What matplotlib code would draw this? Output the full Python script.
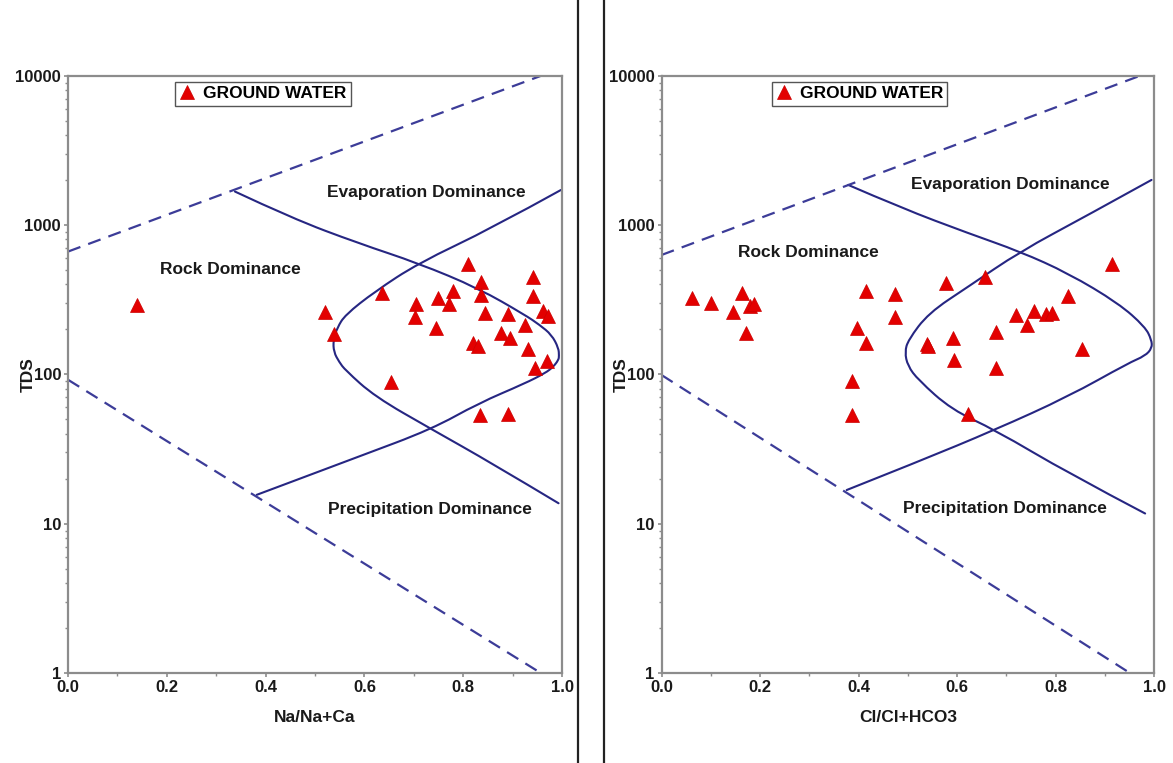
import matplotlib
matplotlib.use('Agg')
import numpy as np
import matplotlib.pyplot as plt
from matplotlib.lines import Line2D
from matplotlib.path import Path
from matplotlib.patches import PathPatch
from matplotlib.ticker import FixedLocator, MultipleLocator, LogLocator, NullFormatter, FormatStrFormatter

plt.rcParams['font.family'] = ['Liberation Sans', 'DejaVu Sans']
plt.rcParams['font.weight'] = 'bold'
plt.rcParams['lines.scale_dashes'] = False

# ---- data: Na/(Na+Ca) panel ----
na_ratio = [0.140, 0.520, 0.538, 0.635, 0.653, 0.704, 0.702, 0.748, 0.744, 0.772,
            0.779, 0.810, 0.836, 0.836, 0.844, 0.820, 0.829, 0.834, 0.891, 0.891,
            0.876, 0.895, 0.925, 0.942, 0.942, 0.962, 0.972, 0.932, 0.945, 0.969]
na_tds = [292, 263, 187, 349, 89, 296, 241, 326, 204, 295,
          362, 546, 414, 340, 257, 162, 155, 53.5, 54, 253,
          190, 175, 214, 451, 335, 266, 246, 147, 110, 123]

# ---- data: Cl/(Cl+HCO3) panel ----
cl_ratio = [0.061, 0.100, 0.145, 0.163, 0.180, 0.188, 0.172, 0.415, 0.396, 0.415,
            0.387, 0.387, 0.474, 0.474, 0.577, 0.657, 0.914, 0.826, 0.720, 0.756,
            0.780, 0.792, 0.742, 0.679, 0.592, 0.540, 0.542, 0.594, 0.679, 0.853,
            0.622]
cl_tds = [326, 299, 263, 349, 287, 296, 188, 362, 204, 163,
          90, 53.5, 344, 244, 411, 447, 546, 335, 250, 266,
          253, 257, 214, 191, 176, 159, 155, 124, 110, 148,
          54]

# Gibbs boundary curves
na_curve_a_x = [0.338, 0.453, 0.588, 0.709, 0.831, 0.925, 0.955, 0.979, 0.993, 0.994,
                0.993, 0.982, 0.966, 0.925, 0.831, 0.736, 0.588, 0.453, 0.382]
na_curve_a_y = [1675, 1111, 755, 555, 377, 250, 214, 184, 150, 133,
                125, 112, 102, 87, 64, 42.9, 28.1, 19.1, 15.6]
na_curve_b_x = [0.998, 0.858, 0.709, 0.621, 0.561, 0.545, 0.537, 0.538, 0.549, 0.561,
                0.621, 0.736, 0.858, 0.993]
na_curve_b_y = [1718, 952, 555, 358, 250, 205, 170, 141, 121, 107,
                71, 42.9, 25.4, 13.7]
na_upper_x, na_upper_y = [0.0, 0.958], [664, 10000]
na_lower_x, na_lower_y = [0.0, 0.957], [92, 1]

cl_curve_a_x = [0.379, 0.488, 0.623, 0.728, 0.826, 0.928, 0.982, 0.995, 0.996, 0.982,
                0.948, 0.826, 0.677, 0.521, 0.376]
cl_curve_a_y = [1857, 1297, 881, 664, 475, 299, 208, 170, 150, 133,
                119, 71, 42.5, 26, 16.8]
cl_curve_b_x = [0.995, 0.860, 0.728, 0.623, 0.542, 0.501, 0.494, 0.500, 0.521, 0.589,
                0.677, 0.826, 0.982]
cl_curve_b_y = [2005, 1138, 664, 387, 257, 170, 141, 114, 92, 58,
                42.5, 21.8, 11.7]
cl_upper_x, cl_upper_y = [0.0, 0.972], [630, 10000]
cl_lower_x, cl_lower_y = [0.0, 0.951], [99, 1]

region_names = ['Evaporation Dominance', 'Rock Dominance', 'Precipitation Dominance']
na_label_pos = [(0.725, 1641), (0.329, 500), (0.732, 12.4)]
cl_label_pos = [(0.709, 1855), (0.299, 653), (0.697, 12.7)]

ytick_vals = [1, 10, 100, 1000, 10000]
ytick_labels = ['1', '10', '100', '1000', '10000']

CURVE = '#262682'
DASH = '#3c3c98'
SPINE = '#8c8c8c'
TXT = '#1a1a1a'


def smooth_curve(ax, xs, ys):
    # quadratic bezier through the read points (rounded corners), drawn in data coords
    ly = np.log10(ys)
    verts = [(xs[0], ys[0])]
    codes = [Path.MOVETO]
    n = len(xs)
    for i in range(1, n - 1):
        if i < n - 2:
            end = ((xs[i] + xs[i + 1]) / 2, 10 ** ((ly[i] + ly[i + 1]) / 2))
        else:
            end = (xs[i + 1], ys[i + 1])
        verts += [(xs[i], ys[i]), end]
        codes += [Path.CURVE3, Path.CURVE3]
    patch = PathPatch(Path(verts, codes), fill=False, edgecolor=CURVE, lw=1.5,
                      joinstyle='round', capstyle='round')
    ax.add_patch(patch)


def draw_panel(ax, xs, ys, ca, cb, up, lo, label_pos, xlabel, leg_x):
    ax.set_yscale('log')
    ax.set_xlim(0, 1)
    ax.set_ylim(1, 10000)

    ax.plot(up[0], up[1], color=DASH, lw=1.6, dashes=(9.5, 6))
    ax.plot(lo[0], lo[1], color=DASH, lw=1.6, dashes=(9.5, 6))
    smooth_curve(ax, ca[0], ca[1])
    smooth_curve(ax, cb[0], cb[1])
    ax.plot(xs, ys, linestyle='none', marker='^', markersize=9.5,
            color='#e30000', markeredgecolor='#cc0000', markeredgewidth=0.5,
            label='GROUND WATER')
    for name, (px, py) in zip(region_names, label_pos):
        ax.text(px, py, name, ha='center', va='center', fontsize=12.5,
                fontweight='bold', color=TXT)

    ax.yaxis.set_major_locator(FixedLocator(ytick_vals))
    ax.set_yticklabels(ytick_labels)
    ax.yaxis.set_minor_locator(LogLocator(base=10, subs=range(2, 10)))
    ax.yaxis.set_minor_formatter(NullFormatter())
    ax.xaxis.set_major_locator(MultipleLocator(0.2))
    ax.xaxis.set_minor_locator(MultipleLocator(0.1))
    ax.xaxis.set_major_formatter(FormatStrFormatter('%.1f'))

    for sp in ax.spines.values():
        sp.set_color(SPINE)
        sp.set_linewidth(1.6)
    ax.tick_params(which='major', direction='out', length=3, width=1.2,
                   color=SPINE, labelsize=12, labelcolor=TXT, pad=2)
    ax.tick_params(which='minor', direction='out', length=2, width=1.0, color=SPINE)
    ax.tick_params(top=False, right=False, which='both')
    for lab in ax.get_xticklabels() + ax.get_yticklabels():
        lab.set_fontweight('bold')

    ax.set_xlabel(xlabel, fontsize=12.5, fontweight='bold', color=TXT)
    ax.set_ylabel('TDS', fontsize=12.5, fontweight='bold', color=TXT)
    ax.xaxis.set_label_coords(0.5, -0.062)
    ax.yaxis.set_label_coords(-0.066, 0.5)

    leg = ax.legend(loc='upper left', bbox_to_anchor=(leg_x, 0.99), borderaxespad=0,
                    fancybox=False, framealpha=1, edgecolor='#555555',
                    handlelength=0.9, handletextpad=0.45, borderpad=0.25,
                    prop={'weight': 'bold', 'size': 12.5})
    leg.get_frame().set_linewidth(1.0)


fig = plt.figure(figsize=(11.73, 7.63), dpi=100)
ax1 = fig.add_axes([68 / 1173, 1 - 673 / 763, 494 / 1173, 597.3 / 763])
ax2 = fig.add_axes([661.5 / 1173, 1 - 673 / 763, 492.5 / 1173, 597.3 / 763])

draw_panel(ax1, na_ratio, na_tds, (na_curve_a_x, na_curve_a_y), (na_curve_b_x, na_curve_b_y),
           (na_upper_x, na_upper_y), (na_lower_x, na_lower_y), na_label_pos,
           'Na/Na+Ca', 0.217)
draw_panel(ax2, cl_ratio, cl_tds, (cl_curve_a_x, cl_curve_a_y), (cl_curve_b_x, cl_curve_b_y),
           (cl_upper_x, cl_upper_y), (cl_lower_x, cl_lower_y), cl_label_pos,
           'Cl/Cl+HCO3', 0.224)

# separator lines between the two panels
for xpix in (578, 604):
    fig.add_artist(Line2D([xpix / 1173, xpix / 1173], [0, 1], transform=fig.transFigure,
                          color='#222222', lw=1.6))

fig.savefig('out.png', dpi=100)
